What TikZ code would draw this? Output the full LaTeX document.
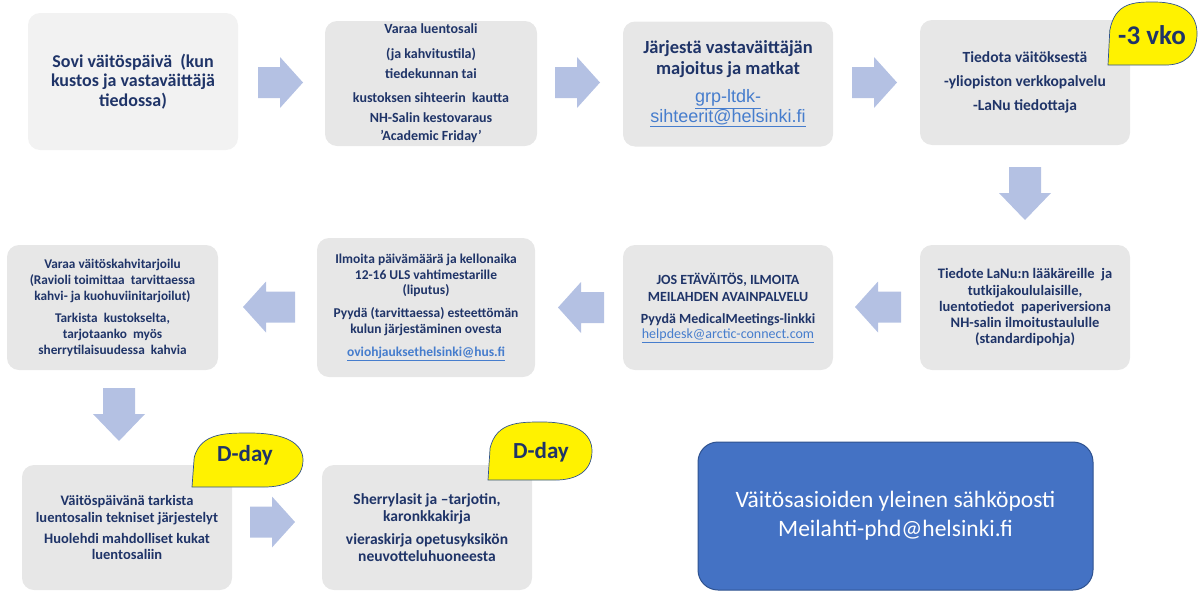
\documentclass[tikz,border=0pt]{standalone}
\usepackage{fontspec}
\setmainfont{Carlito}
\newfontfamily\linkfont{Liberation Sans}
\definecolor{navy}{RGB}{31,52,104}
\definecolor{boxgray}{RGB}{231,231,231}
\definecolor{boxlight}{RGB}{242,242,242}
\definecolor{arrowblue}{RGB}{180,193,227}
\definecolor{linkblue}{RGB}{70,125,205}
\definecolor{bluefill}{RGB}{68,114,196}
\definecolor{blueedge}{RGB}{47,82,143}
\newcommand{\fs}[2]{\fontsize{#1}{#2}\selectfont}
\newcommand{\mycallout}[4]{%
 \path[callout] (#1,#4) -- ({#1+0.02*(#3-#1)},{#2+0.45*(#4-#2)})
 .. controls ({#1+0.08*(#3-#1)},#2) and ({#1+0.3*(#3-#1)},#2) .. ({#1+0.52*(#3-#1)},#2)
 .. controls ({#1+0.85*(#3-#1)},#2) and (#3,{#2+0.2*(#4-#2)}) .. (#3,{#2+0.5*(#4-#2)})
 .. controls (#3,{#2+0.85*(#4-#2)}) and ({#1+0.85*(#3-#1)},#4) .. ({#1+0.65*(#3-#1)},#4) -- cycle;}
% right arrow: left x, center y, length
\newcommand{\rarrow}[3]{%
 \fill[arrowblue] (#1,{#2-15.5}) -- ({#1+#3-23},{#2-15.5}) -- ({#1+#3-23},{#2-25.5}) -- ({#1+#3},#2) -- ({#1+#3-23},{#2+25.5}) -- ({#1+#3-23},{#2+15.5}) -- (#1,{#2+15.5}) -- cycle;}
% left arrow: right x, center y, length
\newcommand{\larrow}[3]{%
 \fill[arrowblue] (#1,{#2-15.5}) -- ({#1-#3+23},{#2-15.5}) -- ({#1-#3+23},{#2-25.5}) -- ({#1-#3},#2) -- ({#1-#3+23},{#2+25.5}) -- ({#1-#3+23},{#2+15.5}) -- (#1,{#2+15.5}) -- cycle;}
% down arrow: center x, top y
\newcommand{\darrow}[2]{%
 \fill[arrowblue] ({#1-16},#2) -- ({#1+16},#2) -- ({#1+16},{#2+26}) -- ({#1+26},{#2+26}) -- (#1,{#2+53}) -- ({#1-26},{#2+26}) -- ({#1-16},{#2+26}) -- cycle;}
\tikzset{
 box/.style={fill=boxgray, rounded corners=12pt, inner sep=0pt, align=center, text=navy},
 callout/.style={fill=yellow, draw=blueedge, line width=0.7pt},
 callouttext/.style={text=navy, inner sep=0pt}
}
\begin{document}
\begin{tikzpicture}[x=1pt,y=-1pt]
\useasboundingbox (0,0) rectangle (1199,592);
% row 1
\node[box, fill=boxlight, minimum width=210pt, minimum height=137pt, font=\bfseries\fs{18}{19.5}] (b1) at (133,81.5)
 {Sovi väitöspäivä\ \ (kun\\kustos ja vastaväittäjä\\tiedossa)};
\node[box, minimum width=212pt, minimum height=125pt, font=\bfseries\fs{14}{17}] (b2) at (431,83.5)
 {Varaa luentosali\\[8pt](ja kahvitustila)\\[3pt]tiedekunnan tai\\[7pt]kustoksen sihteerin\ \ kautta\\[3pt]NH-Salin kestovaraus\\[1pt]’Academic Friday’};
\node[box, minimum width=210pt, minimum height=125pt, font=\bfseries\fs{18.5}{21}] (b3) at (728,84)
 {Järjestä vastaväittäjän\\majoitus ja matkat\\[7pt]{\linkfont\mdseries\color{linkblue}\fs{18}{20}\underline{grp-ltdk-}}\\[-1pt]{\linkfont\mdseries\color{linkblue}\fs{18}{20}\underline{sihteerit@helsinki.fi}}};
\node[box, minimum width=210pt, minimum height=125pt, font=\bfseries\fs{15.5}{24}] (b4) at (1025,82.5)
 {Tiedota väitöksestä\\-yliopiston verkkopalvelu\\-LaNu tiedottaja};
% row 2
\node[box, minimum width=210pt, minimum height=125pt, font=\bfseries\fs{14.5}{16.3}] (b5) at (1025,307.5)
 {Tiedote LaNu:n lääkäreille\ \ ja\\tutkijakoululaisille,\\luentotiedot\ \ paperiversiona\\NH-salin ilmoitustaululle\\(standardipohja)};
\node[box, minimum width=210pt, minimum height=125pt, font=\bfseries\fs{14}{17}] (b6) at (728,307.5)
 {JOS ETÄVÄITÖS, ILMOITA\\MEILAHDEN AVAINPALVELU\\[5pt]Pyydä MedicalMeetings-linkki\\[-2pt]{\mdseries\color{linkblue}\underline{helpdesk@arctic-connect.com}}};
\node[box, minimum width=218pt, minimum height=139pt, font=\bfseries\fs{13.5}{15.5}] (b7) at (426,307.5)
 {Ilmoita päivämäärä ja kellonaika\\12-16 ULS vahtimestarille\\(liputus)\\[7.5pt]Pyydä (tarvittaessa) esteettömän\\kulun järjestäminen ovesta\\[7.5pt]{\color{linkblue}\underline{oviohjauksethelsinki@hus.fi}}};
\node[box, minimum width=211pt, minimum height=125pt, font=\bfseries\fs{13.3}{16}] (b8) at (112.5,307.5)
 {Varaa väitöskahvitarjoilu\\(Ravioli toimittaa\ \ tarvittaessa\\kahvi- ja kuohuviinitarjoilut)\\[6pt]Tarkista\ \ kustokselta,\\tarjotaanko\ \ myös\\sherrytilaisuudessa\ \ kahvia};
% row 3
\node[box, minimum width=210pt, minimum height=125pt, font=\bfseries\fs{14.5}{17}] (b9) at (127,527.5)
 {Väitöspäivänä tarkista\\luentosalin tekniset järjestelyt\\[4pt]Huolehdi mahdolliset kukat\\[-1pt]luentosaliin};
\node[box, minimum width=210pt, minimum height=125pt, font=\bfseries\fs{15.5}{17}] (b10) at (427,527.5)
 {Sherrylasit ja –tarjotin,\\karonkkakirja\\[6pt]vieraskirja opetusyksikön\\neuvotteluhuoneesta};
\node[fill=bluefill, draw=blueedge, line width=1pt, rounded corners=20pt, minimum width=395pt, minimum height=148pt, inner sep=0pt, align=center, text=white, font=\fs{23.5}{29}] (mail) at (895.5,516)
 {Väitösasioiden yleinen sähköposti\\Meilahti-phd@helsinki.fi};
% block arrows
\rarrow{258}{82.5}{45}
\rarrow{555}{82.5}{45}
\rarrow{852}{82.5}{45}
\darrow{1025}{167}
\larrow{901}{307}{46}
\larrow{604}{307.5}{46}
\larrow{295}{307}{52}
\darrow{119}{388}
\rarrow{250}{522}{45}
% callouts
\mycallout{1108}{2}{1197}{65}
\node[callouttext, font=\bfseries\fs{27}{29}] (c1) at (1152,35) {-3 vko};
\mycallout{192}{433}{303}{487}
\node[callouttext, font=\bfseries\fs{23}{25}] (c2) at (245,455) {D-day};
\mycallout{488}{422}{592}{480}
\node[callouttext, font=\bfseries\fs{23}{25}] (c3) at (541,452) {D-day};
\end{tikzpicture}
\end{document}
